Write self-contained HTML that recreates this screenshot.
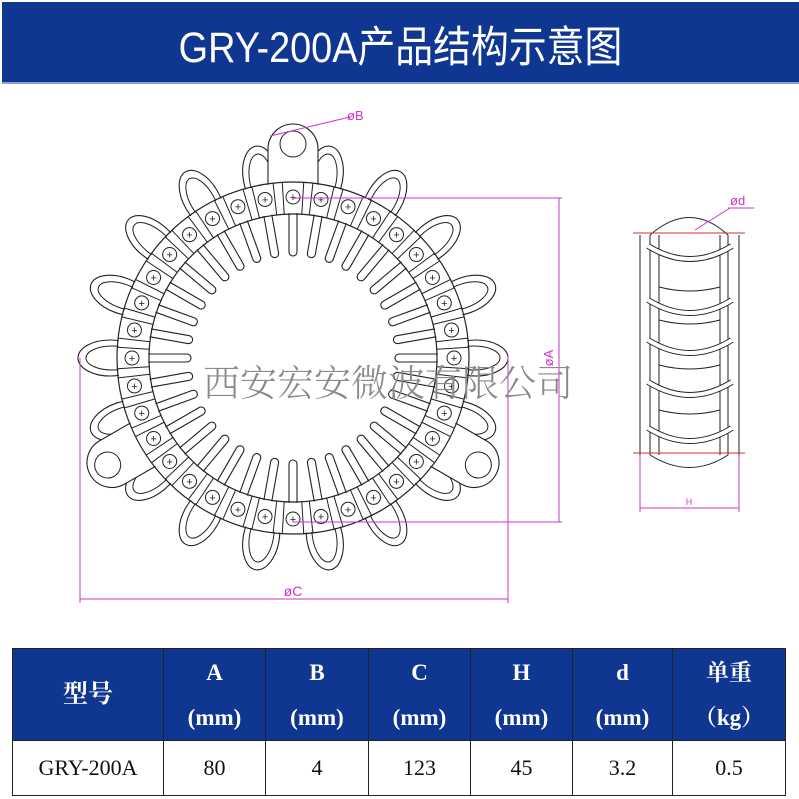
<!DOCTYPE html>
<html><head><meta charset="utf-8">
<style>
html,body{margin:0;padding:0;background:#fff;}
body{width:799px;height:799px;position:relative;overflow:hidden;font-family:"Liberation Serif","Noto Serif CJK SC",serif;}
#hdr{position:absolute;left:2px;top:2px;width:797px;height:80px;background:#0f3791;border-bottom:2px solid #8aa0d8;}
#hdr div{position:absolute;left:0;width:100%;top:11px;text-align:center;color:#fff;font-size:43px;font-family:"Liberation Sans Narrow","Liberation Sans","Noto Sans CJK SC",sans-serif;transform:scaleX(0.88);}
table{position:absolute;left:12px;top:648px;border-collapse:collapse;}
td{border:1.5px solid #222;text-align:center;padding:0;}
tr.h td{background:#0f3791;color:#fff;font-weight:bold;font-size:23px;height:91px;line-height:45px;}
tr.d td{height:54px;font-size:22px;color:#111;}
svg{position:absolute;left:0;top:0;}
</style></head><body>
<div id="hdr"><div>GRY-200A产品结构示意图</div></div>
<svg id="s" width="799" height="640" viewBox="0 0 799 640"></svg>
<table>
<tr class="h"><td style="width:150px;font-size:25px">型号</td><td style="width:101px">A<br>(mm)</td><td style="width:102px">B<br>(mm)</td><td style="width:101px">C<br>(mm)</td><td style="width:101px">H<br>(mm)</td><td style="width:99px">d<br>(mm)</td><td style="width:112px">单重<br>（kg）</td></tr>
<tr class="d"><td>GRY-200A</td><td>80</td><td>4</td><td>123</td><td>45</td><td>3.2</td><td>0.5</td></tr>
</table>
<script>
var s=document.getElementById('s');var h='';
var cx=293,cy=358,R1=144,R2=176;
function P(r,a){a=a*Math.PI/180;return [cx+r*Math.cos(a),cy+r*Math.sin(a)];}
var st='fill="#fff" stroke="#222" stroke-width="1.1"';
// outer loops
for(var i=0;i<18;i++){var a=-90+10+i*20;
 var p=P(183,a);
 h+='<g transform="translate('+p[0]+','+p[1]+') rotate('+a+')"><ellipse cx="0" cy="0" rx="32" ry="18" '+st+'/><ellipse cx="-2" cy="0" rx="26" ry="12" fill="none" stroke="#222" stroke-width="1"/></g>';}
// lugs
[-90,30,150].forEach(function(a){var p=P(R1+10,a);
 h+='<g transform="translate('+p[0]+','+p[1]+') rotate('+a+')"><path d="M0,-25 L55,-25 A25,25 0 0 1 55,25 L0,25 Z" '+st+'/><circle cx="60" cy="0" r="13" fill="#fff" stroke="#222"/></g>';});
// inner tongues
for(var i=0;i<36;i++){var a=-90+i*10;var p=P(R1+2,a);
 h+='<g transform="translate('+p[0]+','+p[1]+') rotate('+(a+180)+')"><path d="M0,-4 L40,-4 A4,4 0 0 1 40,4 L0,4" '+st+'/></g>';}
// band
h+='<circle cx="'+cx+'" cy="'+cy+'" r="'+R2+'" fill="none" stroke="#222" stroke-width="1.2"/>';
h+='<circle cx="'+cx+'" cy="'+cy+'" r="'+((R1+R2)/2)+'" fill="none" stroke="#fff" stroke-width="'+(R2-R1-2)+'"/>';
h+='<circle cx="'+cx+'" cy="'+cy+'" r="'+R1+'" fill="none" stroke="#222" stroke-width="1.2"/>';
for(var i=0;i<36;i++){var a=-90+i*10;
 [a-3.5,a+3.5].forEach(function(b){var u=P(R1,b),v=P(R2,b);h+='<line x1="'+u[0]+'" y1="'+u[1]+'" x2="'+v[0]+'" y2="'+v[1]+'" stroke="#222"/>';});
 var c=P(161,a);h+='<circle cx="'+c[0]+'" cy="'+c[1]+'" r="7" fill="#fff" stroke="#222"/><text x="'+c[0]+'" y="'+(c[1]+4)+'" font-size="11" text-anchor="middle" font-family="Liberation Sans" fill="#222">+</text>';}
// dimensions
var m='#cc33cc';
h+='<line x1="293" y1="198" x2="562" y2="198" stroke="'+m+'"/><line x1="293" y1="522" x2="562" y2="522" stroke="'+m+'"/><line x1="559" y1="198" x2="559" y2="522" stroke="'+m+'"/>';
h+='<text x="0" y="0" transform="translate(553,358) rotate(-90)" font-size="13" fill="'+m+'" font-family="Liberation Sans" text-anchor="middle">øA</text>';
h+='<line x1="80" y1="358" x2="80" y2="603" stroke="'+m+'"/><line x1="508" y1="355" x2="508" y2="603" stroke="'+m+'"/><line x1="80" y1="599" x2="508" y2="599" stroke="'+m+'"/>';
h+='<text x="293" y="596" font-size="14" fill="'+m+'" font-family="Liberation Sans" text-anchor="middle">øC</text>';
h+='<line x1="270" y1="136" x2="350" y2="117" stroke="'+m+'"/><text x="347" y="120" font-size="13" fill="'+m+'" font-family="Liberation Sans">øB</text>';
// side view
h+='<line x1="640" y1="235" x2="640" y2="455" stroke="#222"/><line x1="739" y1="235" x2="739" y2="455" stroke="#222"/>';
h+='<line x1="650" y1="235" x2="650" y2="455" stroke="#222"/><line x1="728" y1="235" x2="728" y2="455" stroke="#222"/>';
h+='<line x1="659" y1="235" x2="659" y2="455" stroke="#222"/><line x1="720" y1="235" x2="720" y2="455" stroke="#222"/>';
h+='<path d="M650,235 Q690,200 728,235" fill="none" stroke="#222"/><path d="M650,455 Q690,480 728,455" fill="none" stroke="#222"/>';
[246,300,340,382,428].forEach(function(y){h+='<path d="M648,'+y+' Q690,'+(y+26)+' 732,'+y+'" fill="none" stroke="#222" stroke-width="6"/><path d="M648,'+y+' Q690,'+(y+26)+' 732,'+y+'" fill="none" stroke="#fff" stroke-width="4"/>';});
[287,320,365,410].forEach(function(y){h+='<path d="M659,'+y+' Q690,'+(y+8)+' 720,'+y+'" fill="none" stroke="#222"/>';});
h+='<line x1="633" y1="233" x2="745" y2="233" stroke="#d03030"/><line x1="633" y1="453" x2="745" y2="453" stroke="#d03030"/>';
h+='<line x1="695" y1="230" x2="730" y2="208" stroke="'+m+'"/><line x1="728" y1="208" x2="754" y2="208" stroke="'+m+'"/><text x="730" y="205" font-size="13" fill="'+m+'" font-family="Liberation Sans">ød</text>';
h+='<line x1="640" y1="455" x2="640" y2="512" stroke="'+m+'"/><line x1="739" y1="455" x2="739" y2="512" stroke="'+m+'"/><line x1="640" y1="508" x2="739" y2="508" stroke="'+m+'"/><text x="689" y="505" font-size="9" fill="'+m+'" font-family="Liberation Sans" text-anchor="middle">H</text>';
// watermark
h+='<text x="388" y="396" font-size="37" fill="#8a8a8a" text-anchor="middle" font-family="Noto Serif CJK SC,serif" font-weight="300">西安宏安微波有限公司</text>';
s.innerHTML=h;
</script>
</body></html>
